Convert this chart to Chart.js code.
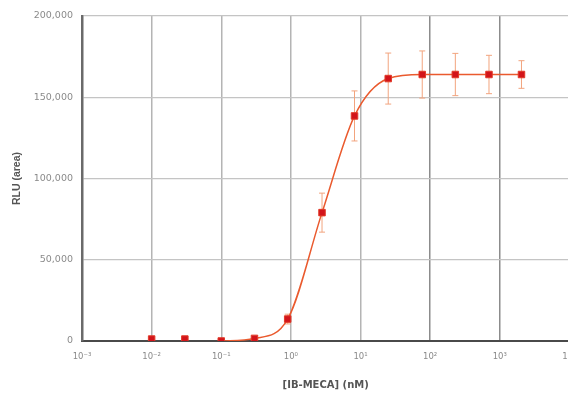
<!DOCTYPE html>
<html>
<head>
<meta charset="utf-8">
<script src="https://cdn.jsdelivr.net/npm/chart.js@4/dist/chart.umd.min.js"></script>
<style>
  html,body{margin:0;padding:0;background:#fff;overflow:hidden;}
  #wrap{position:absolute;left:0;top:0;width:575px;height:394px;}
</style>
</head>
<body>
<div id="wrap"><canvas id="myChart"></canvas></div>
<script>
// [IB-MECA] concentration (nM), 3-fold dilutions
const conc = [0.01, 0.03, 0.1, 0.3, 0.9, 2.8, 8.2, 25, 77, 230, 700, 2050];
// RLU (area) means and error bar half-widths
const rlu  = [1200, 1200, 0, 1600, 13500, 79000, 138500, 161500, 164000, 164000, 164000, 164000];
const err  = [0, 0, 0, 0, 3000, 12000, 15400, 15700, 14500, 13000, 11800, 8500];
// fitted curve is drawn from the 0.1 nM point onward
const curveStart = 2;
const xDecades = [1e-3, 1e-2, 1e-1, 1, 10, 100, 1000, 10000];
const xTickText = ['10\u207B\u00B3', '10\u207B\u00B2', '10\u207B\u00B9', '10\u2070', '10\u00B9', '10\u00B2', '10\u00B3', '10\u2074'];

const points = conc.map((c, i) => ({x: c, y: rlu[i]}));
const curve = points.slice(curveStart);

const errorBars = {
    id: 'errorBars',
    beforeDatasetsDraw(chart) {
        const ctx = chart.ctx;
        const xs = chart.scales.x, ys = chart.scales.y;
        ctx.save();
        ctx.strokeStyle = '#f2a47e';
        ctx.lineWidth = 1;
        for (let i = 0; i < conc.length; i++) {
            if (!err[i]) continue;
            const px = xs.getPixelForValue(conc[i]);
            const top = ys.getPixelForValue(rlu[i] + err[i]);
            const bot = ys.getPixelForValue(rlu[i] - err[i]);
            ctx.beginPath();
            ctx.moveTo(px, top); ctx.lineTo(px, bot);
            ctx.moveTo(px - 3, top); ctx.lineTo(px + 3, top);
            ctx.moveTo(px - 3, bot); ctx.lineTo(px + 3, bot);
            ctx.stroke();
        }
        ctx.restore();
    }
};

const chart = new Chart(document.getElementById('myChart').getContext('2d'), {
    type: 'line',
    data: {
        datasets: [
            {
                label: 'data',
                data: points,
                showLine: false,
                pointStyle: 'rect',
                pointRadius: 4.6,
                pointBackgroundColor: '#d2141a',
                pointBorderColor: '#e23a28',
                pointBorderWidth: 1
            },
            {
                label: 'fit',
                data: curve,
                borderColor: '#ea5a2e',
                borderWidth: 1.5,
                pointRadius: 0,
                cubicInterpolationMode: 'monotone',
                fill: false
            }
        ]
    },
    options: {
        responsive: true,
        maintainAspectRatio: false,
        animation: false,
        layout: {padding: {top: 16, left: 0, right: 0, bottom: 0}},
        plugins: {legend: {display: false}, tooltip: {enabled: false}},
        scales: {
            x: {
                type: 'logarithmic',
                min: 1e-3,
                max: 1e4,
                afterBuildTicks(scale) {
                    scale.ticks = xDecades.map(v => ({value: v}));
                },
                afterFit(scale) {
                    scale.height = 53;
                    scale.paddingRight = 0;
                    scale.paddingLeft = 0;
                },
                ticks: {
                    autoSkip: false,
                    maxRotation: 0,
                    padding: 11,
                    color: '#8a8a8a',
                    font: {family: 'DejaVu Sans', size: 8.5},
                    callback: (v, i) => xTickText[i]
                },
                grid: {
                    drawTicks: false,
                    color: (c) => (c.index === 5 || c.index === 6) ? '#8c8c8c' : '#b4b4b4',
                    lineWidth: 1.5
                },
                border: {color: '#4a4a4a', width: 2},
                title: {
                    display: true,
                    text: '[IB-MECA] (nM)',
                    color: '#555555',
                    font: {family: 'DejaVu Sans', size: 10, weight: 'bold'},
                    padding: {top: 0, bottom: 3}
                }
            },
            y: {
                min: 0,
                max: 200000,
                afterFit(scale) {
                    scale.width = 82;
                    scale.paddingTop = 0;
                    scale.paddingBottom = 0;
                },
                ticks: {
                    stepSize: 50000,
                    padding: 9,
                    color: '#8a8a8a',
                    font: {family: 'DejaVu Sans', size: 9.5},
                    callback: v => v.toLocaleString('en-US')
                },
                grid: {drawTicks: false, color: '#c4c4c4', lineWidth: 1.2},
                border: {color: '#6a6a6a', width: 2.5},
                title: {
                    display: true,
                    text: 'RLU (area)',
                    color: '#555555',
                    font: {family: 'Liberation Sans', size: 10.5, weight: 'bold'},
                    padding: {top: 11, bottom: 0}
                }
            }
        }
    },
    plugins: [errorBars]
});
</script>
</body>
</html>
